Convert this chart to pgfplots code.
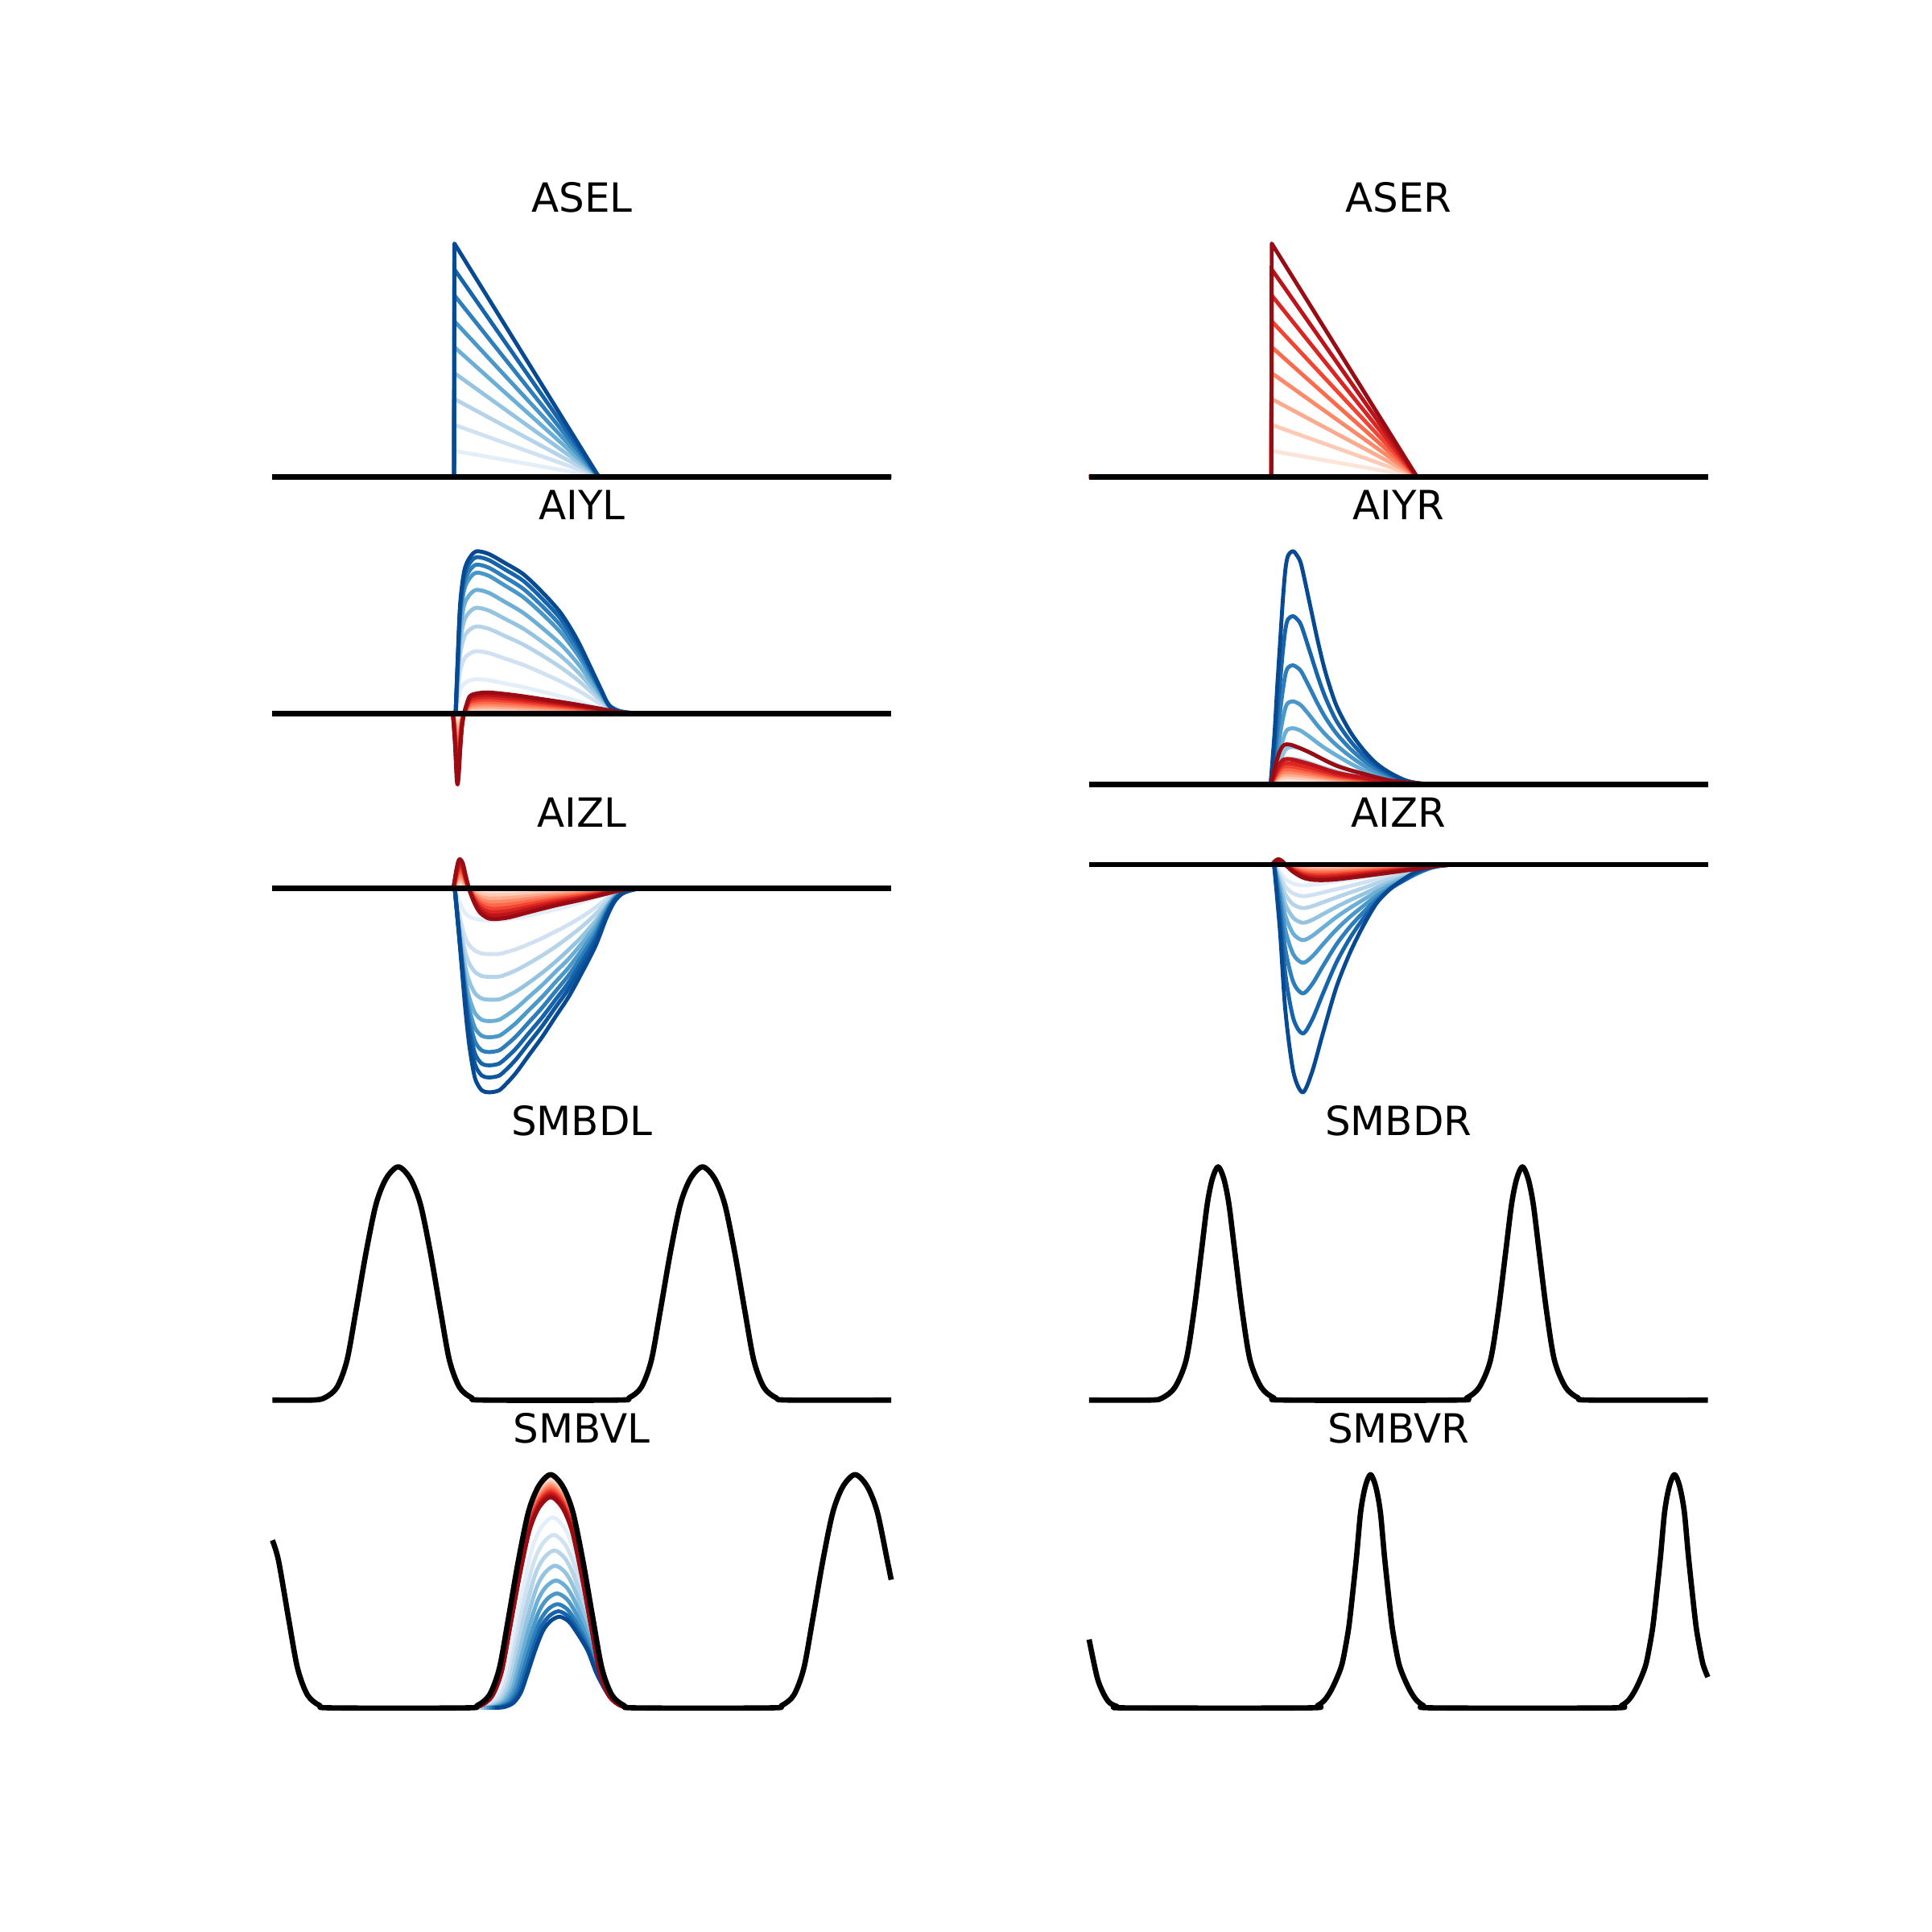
\documentclass[border=0pt]{standalone}
\usepackage{fontspec}
\setmainfont{DejaVu Sans}
\usepackage{pgfplots}
\usepackage{pgfplotstable}
\pgfplotsset{compat=1.18}

\definecolor{b1}{RGB}{227,238,249}\definecolor{b2}{RGB}{208,225,242}\definecolor{b3}{RGB}{182,212,233}
\definecolor{b4}{RGB}{148,196,223}\definecolor{b5}{RGB}{107,174,214}\definecolor{b6}{RGB}{74,152,201}
\definecolor{b7}{RGB}{46,126,188}\definecolor{b8}{RGB}{23,100,171}\definecolor{b85}{RGB}{14,86,158}
\definecolor{b9}{RGB}{8,74,146}
\definecolor{r1}{RGB}{254,228,216}\definecolor{r2}{RGB}{253,202,181}\definecolor{r3}{RGB}{252,171,142}
\definecolor{r4}{RGB}{252,138,106}\definecolor{r5}{RGB}{251,106,74}\definecolor{r6}{RGB}{241,68,50}
\definecolor{r7}{RGB}{217,38,35}\definecolor{r8}{RGB}{188,20,26}\definecolor{r9}{RGB}{153,12,19}

\pgfplotsset{
  every axis title/.style={at={(0.5,1)},anchor=base,yshift=4.08pt,font=\fontsize{8.16}{9.8}\selectfont},
  panel/.style={axis lines=none, ticks=none, scale only axis, width=138.1pt, height=52.05pt,
                anchor=south west, clip=false},
  Lp/.style={panel, xmin=196, xmax=748.4},
  Rp/.style={panel, xmin=858.8, xmax=1411.2},
  cl/.style={line width=0.8pt, line join=round},
  bk/.style={black, line width=1.08pt, line join=round},
}

% ---------------- data ----------------
\pgfplotstableread{
x k1 k2 k3 k4 k5 k6 k7 k8 k9
221.1 0 0 0 0 0 0 0 0 0
368.5 0 0 0 0 0 0 0 0 0
368.8 21.0 42.1 63.1 84.1 105.2 126.2 147.2 168.3 189.3
486.0 0 0 0 0 0 0 0 0 0
723.3 0 0 0 0 0 0 0 0 0
}\tabASEL
\pgfplotstableread{
x k1 k2 k3 k4 k5 k6 k7 k8 k9
883.9 0 0 0 0 0 0 0 0 0
1031.8 0 0 0 0 0 0 0 0 0
1032.1 21.0 42.1 63.1 84.1 105.2 126.2 147.2 168.3 189.3
1150.0 0 0 0 0 0 0 0 0 0
1386.1 0 0 0 0 0 0 0 0 0
}\tabASER
\pgfplotstableread{
x k1 k2 k3 k4 k5 k6 k7 k8 k9
369.8 0 0 0 0 0 0 0 0 0
371.5 9.6 17.3 24.1 29.2 34.2 38.9 41.1 43.2 44.8
373.5 19.1 34.5 48.2 58.5 68.3 77.9 82.3 86.4 89.6
376.8 24.7 44.7 62.4 75.7 88.4 100.8 106.5 111.8 116.0
381.1 27.0 48.8 68.1 82.6 96.5 109.9 116.2 122.0 126.5
386.6 28.1 50.8 70.9 86.0 100.5 114.5 121.0 127.1 131.8
396.4 27.3 49.4 69.1 83.9 98.3 112.1 118.7 124.9 129.8
409.4 24.7 45.0 63.3 77.3 91.0 104.3 111.1 117.4 122.6
424.7 21.6 39.7 56.2 69.1 81.9 94.6 101.4 107.9 113.3
439.9 18.0 33.2 47.4 58.6 69.8 81.2 87.5 93.5 98.9
455.2 14.1 26.2 37.6 46.9 56.3 65.8 71.4 76.9 81.7
468.2 10.4 19.4 27.9 34.7 41.7 48.8 53.0 57.1 60.6
479.1 7.0 13.0 18.4 22.8 27.1 31.5 33.9 36.2 38.2
487.8 4.2 7.6 10.6 12.9 15.1 17.2 18.2 19.1 19.8
494.4 2.2 3.9 5.2 5.9 6.5 7.0 7.0 6.9 6.6
503.1 0.8 1.4 1.8 2.1 2.2 2.2 2.1 1.9 1.7
518.3 0 0 0 0 0 0 0 0 0
}\tabAIYLb
\pgfplotstableread{
x k1 k2 k3 k4 k5 k6 k7 k8 k9
367.6 0 0 0 0 0 0 0 0 0
369.3 -2.8 -5.6 -8.3 -11.1 -13.9 -16.7 -19.4 -22.2 -25
370.6 -5.8 -11.6 -17.3 -23.1 -28.9 -34.7 -40.4 -46.2 -52
371.4 -6.4 -12.8 -19.1 -25.5 -31.9 -38.3 -44.6 -51.0 -57.4
372.3 -5.6 -11.1 -16.7 -22.2 -27.8 -33.3 -38.9 -44.4 -50
373.6 -3.1 -6.2 -9.3 -12.4 -15.6 -18.7 -21.8 -24.9 -28
375.0 -1.1 -2.2 -3.3 -4.4 -5.6 -6.7 -7.8 -8.9 -10
376.6 0 0 0 0 0 0 0 0 0
378.5 0.8 1.6 2.3 3.1 3.9 4.7 5.4 6.2 7
381.1 1.6 3.1 4.7 6.2 7.8 9.3 10.9 12.4 14
385.5 1.8 3.6 5.4 7.2 9.0 10.8 12.6 14.4 16.2
396.4 1.9 3.8 5.8 7.7 9.6 11.5 13.5 15.4 17.3
418.0 1.7 3.4 5.0 6.7 8.4 10.1 11.7 13.4 15.1
439.9 1.3 2.6 4.0 5.3 6.6 7.9 9.3 10.6 11.9
461.7 1.0 1.9 2.9 3.8 4.8 5.7 6.7 7.6 8.6
483.5 0.5 1.1 1.6 2.1 2.7 3.2 3.7 4.3 4.8
494.4 0.3 0.6 0.9 1.2 1.6 1.9 2.2 2.5 2.8
505.3 0.1 0.2 0.4 0.5 0.6 0.7 0.9 1.0 1.1
518.3 0 0 0 0 0 0 0 0 0
}\tabAIYLr
\pgfplotstableread{
x k1 k2 k3 k4 k5 k6 k7 k8 k9
1031.2 0 0 0 0 0 0 0 0 0
1034.4 2.0 3.0 4.6 6.7 10.1 14.9 21.3 30.1 41.6
1036.6 3.8 5.8 8.7 12.8 19.2 28.4 40.7 57.4 79.5
1038.8 5.5 8.2 12.4 18.3 27.4 40.5 58.1 82.0 113.6
1041.0 7.1 10.7 16.1 23.8 35.6 52.7 75.5 106.6 147.7
1043.2 8.4 12.6 19.0 28.1 42.0 62.1 89.1 125.8 174.2
1045.3 8.9 13.4 20.3 29.9 44.8 66.2 94.9 134.0 185.5
1049.3 9.1 13.7 20.7 30.5 45.7 67.5 96.8 136.7 189.3
1052.9 8.9 13.4 20.3 29.9 44.8 66.2 94.9 134.0 185.5
1056.2 8.6 13.0 19.7 29.0 43.4 64.0 91.5 128.8 177.9
1062.8 7.7 11.6 17.6 25.9 38.8 56.2 78.9 108.7 147.7
1069.3 6.7 10.1 15.3 22.6 33.8 47.9 65.8 88.3 117.4
1075.8 5.8 8.8 13.2 19.5 29.2 40.5 54.2 70.4 90.9
1084.5 4.7 7.1 10.8 15.9 23.8 32.1 41.6 51.9 64.4
1095.4 3.5 5.2 7.9 11.6 17.4 23.2 29.5 36.0 43.5
1106.3 2.4 3.6 5.4 7.9 11.9 15.7 19.8 23.8 28.4
1117.2 1.5 2.3 3.5 5.2 7.8 10.1 12.6 14.8 17.0
1128.1 0.9 1.4 2.1 3.1 4.6 5.9 7.3 8.3 9.5
1141.2 0.4 0.5 0.8 1.2 1.8 2.3 2.8 3.0 3.2
1154.2 0.1 0.1 0.2 0.3 0.5 0.5 0.7 0.7 0.6
1171.7 0 0 0 0 0 0 0 0 0
}\tabAIYRb
\pgfplotstableread{
x k1 k2 k3 k4 k5 k6 k7 k8 k9
1031.2 0 0 0 0 0 0 0 0 0
1034.4 1.3 2.4 3.2 4.1 5.0 5.9 7.0 8.3 13.0
1037.7 2.5 4.4 6.1 7.7 9.3 11.1 13.1 15.5 24.5
1041.0 3.1 5.6 7.7 9.7 11.8 14.1 16.5 19.7 31.0
1044.2 3.3 5.9 8.1 10.2 12.4 14.8 17.4 20.7 32.6
1049.7 3.2 5.7 7.9 9.9 12.0 14.4 16.9 20.1 31.6
1062.8 2.6 4.7 6.5 8.2 9.9 11.8 13.9 16.6 26.1
1084.5 1.6 2.8 3.8 4.8 5.8 7.0 8.2 9.7 15.3
1106.3 0.9 1.6 2.2 2.8 3.3 4.0 4.7 5.6 8.8
1128.1 0.3 0.6 0.8 1.0 1.2 1.5 1.7 2.1 3.3
1149.9 0.1 0.2 0.2 0.3 0.4 0.4 0.5 0.6 1.0
1171.7 0 0 0 0 0 0 0 0 0
}\tabAIYRr
\pgfplotstableread{
x k1 k2 k3 k4 k5 k6 k7 k8 k85 k9
369.1 0 0 0 0 0 0 0 0 0 0
371.3 -7.8 -15.0 -18.8 -21.9 -24.0 -24.5 -24.5 -23.6 -22.2 -24.0
374.6 -15.1 -29.6 -38.1 -45.7 -51.7 -55.0 -57.1 -58.2 -58.3 -62.9
377.8 -20.4 -40.5 -52.8 -64.5 -74.4 -80.8 -85.7 -89.5 -92.1 -99.4
381.1 -23.0 -46.4 -61.5 -76.2 -89.5 -98.9 -107.0 -114.0 -119.8 -129.2
385.5 -24.8 -50.6 -67.9 -85.2 -101.3 -113.4 -124.3 -134.1 -142.8 -154.0
390.9 -25.8 -52.9 -71.2 -89.5 -106.7 -119.7 -131.6 -142.3 -151.9 -163.9
396.4 -26.1 -53.4 -71.9 -90.4 -107.8 -120.9 -132.9 -143.7 -153.5 -165.6
402.9 -26.1 -53.4 -71.9 -90.4 -107.3 -120.3 -132.2 -143.0 -152.8 -164.8
407.3 -25.8 -52.9 -71.2 -89.5 -105.6 -118.5 -130.2 -140.8 -150.5 -162.3
418.1 -24.3 -49.7 -66.9 -84.1 -98.1 -110.0 -120.9 -130.8 -139.7 -150.7
429.0 -22.2 -45.4 -61.1 -76.8 -88.4 -99.1 -109.0 -117.8 -125.9 -135.8
439.9 -19.8 -40.6 -54.6 -68.7 -78.7 -88.3 -97.0 -104.9 -112.1 -120.9
450.8 -17.2 -35.2 -47.5 -59.7 -67.9 -76.2 -83.7 -90.5 -96.7 -104.3
461.7 -14.4 -29.4 -39.5 -49.7 -57.1 -64.1 -70.4 -76.2 -81.4 -87.8
472.6 -11.2 -23.0 -30.9 -38.9 -44.2 -49.6 -54.5 -58.9 -62.9 -67.9
483.5 -7.6 -15.5 -20.9 -26.2 -30.2 -33.9 -37.2 -40.2 -43.0 -46.4
492.2 -4.2 -8.5 -11.5 -14.5 -15.6 -17.5 -19.3 -20.8 -22.2 -24.0
498.7 -1.8 -3.7 -5.0 -6.3 -7.1 -8.0 -8.8 -9.5 -10.1 -10.9
505.3 -0.7 -1.3 -1.8 -2.3 -2.8 -3.1 -3.5 -3.7 -4.0 -4.3
514.0 -0.2 -0.4 -0.5 -0.6 -0.8 -0.8 -0.9 -1.0 -1.1 -1.2
522.7 0 0 0 0 0 0 0 0 0 0
}\tabAIZLb
\pgfplotstableread{
x k1 k2 k3 k4 k5 k6 k7 k8 k9
368.0 0 0 0 0 0 0 0 0 0
370.2 1.6 3.1 4.7 6.2 7.8 9.3 10.9 12.4 14
372.0 2.4 4.9 7.3 9.8 12.2 14.7 17.1 19.6 22
373.5 2.6 5.2 7.9 10.5 13.1 15.7 18.4 21.0 23.6
375.7 2.2 4.4 6.7 8.9 11.1 13.3 15.6 17.8 20
377.8 1.2 2.4 3.7 4.9 6.1 7.3 8.6 9.8 11
380.0 0.2 0.4 0.7 0.9 1.1 1.3 1.6 1.8 2
382.2 -0.6 -1.1 -1.7 -2.2 -2.8 -3.3 -3.9 -4.4 -5
385.5 -1.4 -2.9 -4.3 -5.8 -7.2 -8.7 -10.1 -11.6 -13
389.8 -2.2 -4.4 -6.7 -8.9 -11.1 -13.3 -15.6 -17.8 -20
396.4 -2.7 -5.4 -8.2 -10.9 -13.6 -16.3 -19.1 -21.8 -24.5
402.9 -2.8 -5.6 -8.3 -11.1 -13.9 -16.7 -19.4 -22.2 -25
413.8 -2.6 -5.2 -7.8 -10.4 -13.1 -15.7 -18.3 -20.9 -23.5
429.0 -2.2 -4.3 -6.5 -8.7 -10.8 -13.0 -15.2 -17.3 -19.5
450.8 -1.6 -3.1 -4.7 -6.2 -7.8 -9.3 -10.9 -12.4 -14
472.6 -1.0 -2.0 -3.1 -4.1 -5.1 -6.1 -7.2 -8.2 -9.2
490.0 -0.6 -1.1 -1.7 -2.2 -2.8 -3.3 -3.9 -4.4 -5
500.9 -0.3 -0.5 -0.8 -1.0 -1.3 -1.5 -1.8 -2.0 -2.3
511.8 -0.1 -0.1 -0.2 -0.3 -0.3 -0.4 -0.5 -0.5 -0.6
522.7 0 0 0 0 0 0 0 0 0
}\tabAIZLr
\pgfplotstableread{
x k1 k2 k3 k4 k5 k6 k7 k8 k9
1034.0 0 0 0 0 0 0 0 0 0
1038.8 -5.9 -8.8 -11.9 -15.7 -19.9 -25.3 -32.2 -41.0 -53.6
1043.2 -11.8 -17.8 -24.3 -32.2 -41.4 -53.2 -68.8 -89.0 -118.3
1049.7 -15.5 -23.5 -32.4 -43.3 -56.2 -72.9 -95.5 -125.0 -168.2
1057.3 -16.9 -25.6 -35.3 -47.2 -61.3 -79.7 -104.6 -137.1 -184.8
1064.9 -16.4 -24.7 -33.8 -44.9 -57.9 -74.7 -97.1 -126.0 -168.2
1073.7 -15.2 -22.6 -30.6 -40.2 -51.1 -64.7 -82.4 -104.7 -136.8
1084.5 -13.7 -20.0 -26.7 -34.4 -42.7 -52.8 -65.0 -79.7 -99.8
1095.4 -12.0 -17.4 -22.8 -29.0 -35.3 -42.6 -50.8 -60.0 -72.1
1106.3 -10.3 -14.7 -19.1 -24.0 -28.6 -33.7 -38.9 -44.0 -49.9
1117.2 -8.5 -12.0 -15.3 -18.9 -22.1 -25.4 -28.1 -30.2 -31.4
1128.1 -6.6 -9.2 -11.7 -14.3 -16.4 -18.4 -19.6 -19.7 -20.0
1139.0 -4.7 -6.6 -8.3 -10.1 -11.5 -12.7 -13.2 -12.8 -12.0
1149.9 -2.9 -4.0 -5.0 -6.0 -6.7 -7.3 -7.3 -6.6 -5.5
1160.8 -1.2 -1.6 -2.0 -2.5 -2.7 -2.9 -2.8 -2.5 -2.0
1171.7 -0.3 -0.4 -0.4 -0.5 -0.6 -0.6 -0.6 -0.5 -0.4
1184.7 0 0 0 0 0 0 0 0 0
}\tabAIZRb
\pgfplotstableread{
x k1 k2 k3 k4 k5 k6 k7 k8 k9
1032.3 0 0 0 0 0 0 0 0 0
1034.9 0.3 0.7 1.0 1.3 1.7 2.0 2.3 2.7 3
1037.7 0.5 1.0 1.5 2.0 2.4 2.9 3.4 3.9 4.4
1041.0 0.3 0.6 0.8 1.1 1.4 1.7 1.9 2.2 2.5
1044.2 -0.1 -0.2 -0.3 -0.4 -0.6 -0.7 -0.8 -0.9 -1
1049.7 -0.7 -1.3 -2.0 -2.7 -3.3 -4.0 -4.7 -5.3 -6
1057.3 -1.2 -2.3 -3.5 -4.7 -5.8 -7.0 -8.2 -9.3 -10.5
1064.9 -1.4 -2.7 -4.1 -5.5 -6.8 -8.2 -9.6 -10.9 -12.3
1073.7 -1.4 -2.8 -4.2 -5.6 -7.0 -8.4 -9.8 -11.2 -12.6
1084.5 -1.3 -2.7 -4.0 -5.3 -6.7 -8.0 -9.3 -10.7 -12.0
1106.3 -1.0 -2.1 -3.1 -4.2 -5.2 -6.3 -7.3 -8.4 -9.4
1128.1 -0.7 -1.4 -2.2 -2.9 -3.6 -4.3 -5.1 -5.8 -6.5
1149.9 -0.4 -0.8 -1.2 -1.6 -1.9 -2.3 -2.7 -3.1 -3.5
1167.3 -0.1 -0.2 -0.3 -0.4 -0.6 -0.7 -0.8 -0.9 -1.0
1180.4 0 0 0 0 0 0 0 0 0
}\tabAIZRr
\pgfplotstableread{
x1 y1 x2 y2 x3 y3 x4 y4 x5 y5 x6 y6 x7 y7 x8 y8 x9 y9
384.2 0 386.4 0 388.4 0 390.7 0 392.8 0 395.0 0 397.1 0 399.3 0 401.5 0
393.8 1.5 395.7 1.4 397.6 1.3 399.6 1.2 401.5 1.0 403.5 0.9 405.3 0.8 407.3 0.8 409.3 0.7
402.9 8.5 404.6 7.7 406.3 7.0 408.1 6.3 409.8 5.7 411.5 5.1 413.2 4.6 415.0 4.3 416.7 4.1
410.3 26.3 411.9 23.9 413.4 21.7 415.0 19.6 416.6 17.6 418.1 15.8 419.6 14.3 421.2 13.3 422.8 12.6
417.0 58.7 418.4 53.4 419.7 48.6 421.2 43.9 422.6 39.3 424.0 35.3 425.3 32.0 426.8 29.8 428.2 28.1
424.5 97.4 425.7 88.5 426.9 80.5 428.2 72.7 429.4 65.1 430.7 58.5 431.8 53.0 433.1 49.4 434.3 46.6
432.0 129.9 433.1 117.9 434.1 107.4 435.2 96.9 436.3 86.9 437.3 78.0 438.3 70.7 439.4 65.9 440.5 62.2
439.6 146.9 440.5 133.4 441.3 121.4 442.2 109.6 443.1 98.2 444.0 88.3 444.8 80.0 445.7 74.5 446.6 70.3
448.6 154.6 449.3 140.4 449.9 127.8 450.6 115.4 451.3 103.4 452.0 92.9 452.6 84.2 453.3 78.4 454.0 74.0
457.6 146.9 458.1 133.4 458.5 121.4 459.0 109.6 459.5 98.2 460.0 88.3 460.4 80.0 460.9 74.5 461.4 70.3
465.2 129.9 465.5 117.9 465.7 107.4 466.0 96.9 466.3 86.9 466.7 78.0 466.9 70.7 467.2 65.9 467.5 62.2
473.8 97.4 474.2 88.5 474.5 80.5 474.9 72.7 475.4 65.1 475.8 58.5 476.1 53.0 476.5 49.4 476.9 46.6
481.6 58.7 482.0 53.4 482.2 48.6 482.5 43.9 482.9 39.3 483.2 35.3 483.5 32.0 483.8 29.8 484.1 28.1
489.2 26.3 489.7 23.9 490.0 21.7 490.4 19.6 490.8 17.6 491.3 15.8 491.6 14.3 492.0 13.3 492.5 12.6
497.1 8.5 497.5 7.7 497.8 7.0 498.2 6.3 498.5 5.7 498.9 5.1 499.2 4.6 499.6 4.3 500.0 4.1
506.8 1.5 507.1 1.4 507.3 1.3 507.6 1.2 507.9 1.0 508.3 0.9 508.5 0.8 508.8 0.8 509.1 0.7
516.9 0 517.2 0 517.3 0 517.6 0 517.8 0 518.1 0 518.3 0 518.5 0 518.8 0
}\tabSMBVLb
\pgfplotstableread{
xa xb xc k1 k2 k3 k4 k5 k6 k7 k8 k9
378.6 379.3 380.0 0 0 0 0 0 0 0 0 0
388.8 389.4 390.0 1.9 1.8 1.8 1.8 1.8 1.8 1.7 1.7 1.7
398.4 398.9 399.4 10.2 10.1 10.0 9.9 9.8 9.7 9.6 9.5 9.4
406.3 406.8 407.2 31.5 31.2 30.9 30.6 30.3 30.0 29.7 29.4 29.1
413.4 413.7 414.0 70.3 69.7 69.0 68.3 67.6 67.0 66.3 65.7 65.0
421.4 421.6 421.9 116.6 115.5 114.4 113.3 112.1 111.1 109.9 108.9 107.7
429.3 429.5 429.7 155.5 154.0 152.5 151.0 149.5 148.1 146.6 145.2 143.6
437.3 437.4 437.5 175.8 174.1 172.5 170.8 169.1 167.5 165.8 164.2 162.5
446.9 446.9 446.9 185.1 183.3 181.6 179.8 178.0 176.3 174.5 172.8 171.0
456.5 456.4 456.3 175.8 174.1 172.5 170.8 169.1 167.5 165.8 164.2 162.5
464.5 464.3 464.1 155.5 154.0 152.5 151.0 149.5 148.1 146.6 145.2 143.6
472.4 472.2 471.9 116.6 115.5 114.4 113.3 112.1 111.1 109.9 108.9 107.7
480.4 480.1 479.8 70.3 69.7 69.0 68.3 67.6 67.0 66.3 65.7 65.0
487.5 487.0 486.6 31.5 31.2 30.9 30.6 30.3 30.0 29.7 29.4 29.1
495.4 494.9 494.4 10.2 10.1 10.0 9.9 9.8 9.7 9.6 9.5 9.4
505.0 504.4 503.8 1.9 1.8 1.8 1.8 1.8 1.8 1.7 1.7 1.7
515.2 514.5 513.8 0 0 0 0 0 0 0 0 0
}\tabSMBVLr

\begin{document}
\begin{tikzpicture}
\path[use as bounding box] (0,0) rectangle (392pt,392pt);

% ===== row 0 =====
\begin{axis}[Lp, at={(49pt,292.9pt)}, ymin=-9.5, ymax=198.7, title={ASEL}]
\pgfplotsinvokeforeach{1,...,9}{\addplot[cl, color=b#1] table[x=x,y=k#1]{\tabASEL};}
\addplot[bk] coordinates {(221.1,0) (723.3,0)};
\end{axis}
\begin{axis}[Rp, at={(214.7pt,292.9pt)}, ymin=-9.5, ymax=198.7, title={ASER}]
\pgfplotsinvokeforeach{1,...,9}{\addplot[cl, color=r#1] table[x=x,y=k#1]{\tabASER};}
\addplot[bk] coordinates {(883.9,0) (1386.1,0)};
\end{axis}

% ===== row 1 =====
\begin{axis}[Lp, at={(49pt,230.45pt)}, ymin=-66.9, ymax=141.3, title={AIYL}]
\pgfplotsinvokeforeach{1,...,9}{\addplot[cl, smooth, color=b#1] table[x=x,y=k#1]{\tabAIYLb};}
\pgfplotsinvokeforeach{1,...,9}{\addplot[cl, smooth, color=r#1] table[x=x,y=k#1]{\tabAIYLr};}
\addplot[bk] coordinates {(221.1,0) (723.3,0)};
\end{axis}
\begin{axis}[Rp, at={(214.7pt,230.45pt)}, ymin=-9.5, ymax=198.7, title={AIYR}]
\pgfplotsinvokeforeach{1,...,9}{\addplot[cl, smooth, color=b#1] table[x=x,y=k#1]{\tabAIYRb};}
\pgfplotsinvokeforeach{1,...,9}{\addplot[cl, smooth, color=r#1] table[x=x,y=k#1]{\tabAIYRr};}
\addplot[bk] coordinates {(883.9,0) (1386.1,0)};
\end{axis}

% ===== row 2 =====
\begin{axis}[Lp, at={(49pt,168.0pt)}, ymin=-175.1, ymax=33.1, title={AIZL}]
\pgfplotsinvokeforeach{1,2,3,4,5,6,7,8,85,9}{\addplot[cl, smooth, color=b#1] table[x=x,y=k#1]{\tabAIZLb};}
\pgfplotsinvokeforeach{1,...,9}{\addplot[cl, smooth, color=r#1] table[x=x,y=k#1]{\tabAIZLr};}
\addplot[bk] coordinates {(221.1,0) (723.3,0)};
\end{axis}
\begin{axis}[Rp, at={(214.7pt,168.0pt)}, ymin=-194.3, ymax=13.9, title={AIZR}]
\pgfplotsinvokeforeach{1,...,9}{\addplot[cl, smooth, color=b#1] table[x=x,y=k#1]{\tabAIZRb};}
\pgfplotsinvokeforeach{1,...,9}{\addplot[cl, smooth, color=r#1] table[x=x,y=k#1]{\tabAIZRr};}
\addplot[bk] coordinates {(883.9,0) (1386.1,0)};
\end{axis}

% ===== row 3 =====
\begin{axis}[Lp, at={(49pt,105.55pt)}, ymin=-9.5, ymax=198.7, title={SMBDL}]
\addplot[bk, smooth] coordinates {(221.1,0) (253.2,0) (263.6,1.9) (273.5,10.4) (281.6,32.2) (288.8,71.9) (297.0,119.3) (305.2,159.0) (313.4,179.8) (323.2,189.3) (333.0,179.8) (341.2,159.0) (349.4,119.3) (357.6,71.9) (364.8,32.2) (372.9,10.4) (382.8,1.9) (393.2,0) (500.2,0) (510.6,1.9) (520.5,10.4) (528.6,32.2) (535.8,71.9) (544.0,119.3) (552.2,159.0) (560.4,179.8) (570.2,189.3) (580.0,179.8) (588.2,159.0) (596.4,119.3) (604.6,71.9) (611.8,32.2) (619.9,10.4) (629.8,1.9) (640.2,0) (723.3,0)};
\end{axis}
\begin{axis}[Rp, at={(214.7pt,105.55pt)}, ymin=-9.5, ymax=198.7, title={SMBDR}]
\addplot[bk, smooth] coordinates {(883.9,0) (933.6,0) (943.6,1.9) (953.6,10.4) (962.6,32.2) (969.0,71.9) (974.9,119.3) (979.8,159.0) (984.0,179.8) (988.6,189.3) (993.2,179.8) (997.4,159.0) (1002.3,119.3) (1008.2,71.9) (1014.6,32.2) (1023.6,10.4) (1033.6,1.9) (1043.6,0) (1180.6,0) (1190.6,1.9) (1200.6,10.4) (1209.6,32.2) (1216.0,71.9) (1221.9,119.3) (1226.8,159.0) (1231.0,179.8) (1235.6,189.3) (1240.2,179.8) (1244.4,159.0) (1249.3,119.3) (1255.2,71.9) (1261.6,32.2) (1270.6,10.4) (1280.6,1.9) (1290.6,0) (1386.1,0)};
\end{axis}

% ===== row 4 =====
\begin{axis}[Lp, at={(49pt,43.1pt)}, ymin=-9.5, ymax=198.7, title={SMBVL}]
\pgfplotsinvokeforeach{1,...,9}{\addplot[cl, smooth, color=b#1] table[x=x#1,y=y#1]{\tabSMBVLb};}
\pgfplotsinvokeforeach{1,2,3}{\addplot[cl, smooth, color=r#1] table[x=xa,y=k#1]{\tabSMBVLr};}
\pgfplotsinvokeforeach{4,5,6}{\addplot[cl, smooth, color=r#1] table[x=xb,y=k#1]{\tabSMBVLr};}
\pgfplotsinvokeforeach{7,8,9}{\addplot[cl, smooth, color=r#1] table[x=xc,y=k#1]{\tabSMBVLr};}
\addplot[bk, smooth] coordinates {(221.1,136.0) (226.1,119.3) (234.3,71.9) (241.5,32.2) (249.6,10.4) (259.5,1.9) (269.9,0) (376.9,0) (387.3,1.9) (397.2,10.4) (405.3,32.2) (412.5,71.9) (420.7,119.3) (428.9,159.0) (437.1,179.8) (446.9,189.3) (456.7,179.8) (464.9,159.0) (473.1,119.3) (481.3,71.9) (488.5,32.2) (496.6,10.4) (506.5,1.9) (516.9,0) (624.0,0) (634.4,1.9) (644.3,10.4) (652.4,32.2) (659.6,71.9) (667.8,119.3) (676.0,159.0) (684.2,179.8) (694.0,189.3) (703.8,179.8) (712.0,159.0) (720.2,119.3) (723.3,104.0)};
\end{axis}
\begin{axis}[Rp, at={(214.7pt,43.1pt)}, ymin=-9.5, ymax=198.7, title={SMBVR}]
\addplot[bk, smooth] coordinates {(883.9,55.5) (890.4,25.0) (895.4,12.0) (900.3,4.4) (906.8,1.1) (915.0,0) (1060.3,0) (1069.3,1.9) (1075.3,6.6) (1080.3,14.2) (1085.2,24.6) (1089.3,36.0) (1093.3,56.8) (1095.6,72.9) (1100.8,121.2) (1104.3,159.0) (1108.1,179.8) (1112.3,189.3) (1116.5,179.8) (1120.3,159.0) (1123.8,121.2) (1129.0,72.9) (1131.3,56.8) (1135.3,36.0) (1139.4,24.6) (1144.3,14.2) (1149.3,6.6) (1155.3,1.9) (1164.3,0) (1307.0,0) (1316.0,1.9) (1322.0,6.6) (1327.0,14.2) (1331.9,24.6) (1336.0,36.0) (1340.0,56.8) (1342.3,72.9) (1347.5,121.2) (1351.0,159.0) (1354.8,179.8) (1359.0,189.3) (1363.2,179.8) (1367.0,159.0) (1370.5,121.2) (1375.7,72.9) (1378.0,56.8) (1382.0,36.0) (1386.1,25.0)};
\end{axis}
\end{tikzpicture}
\end{document}
